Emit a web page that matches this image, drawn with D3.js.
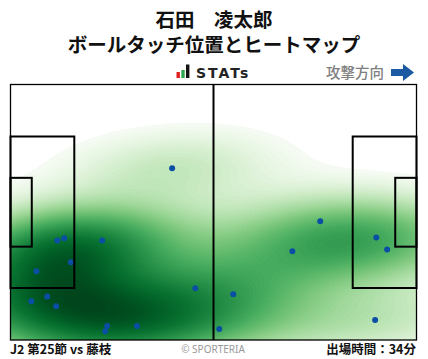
<!DOCTYPE html>
<html>
<head>
<meta charset="utf-8">
<script src="https://cdn.jsdelivr.net/npm/d3@7"></script>
<style>
  body { margin: 0; background: #fff; }
  svg { display: block; font-family: "Noto Sans CJK JP", "Noto Sans", sans-serif; }
</style>
</head>
<body>
<svg id="vis" width="428" height="359"></svg>
<script>
// ball touches, pitch metres (105 x 68), attack to the right
const touchX = [41.8, 12.1, 13.9, 23.7, 15.6, 6.7, 9.5, 5.4, 11.8, 47.8,
                25.0, 24.5, 32.7, 54.0, 80.1, 72.9, 57.6, 94.6, 97.4, 94.3];
const touchY = [22.3, 41.5, 40.9, 41.5, 47.3, 49.7, 56.4, 57.7, 59.0, 54.2,
                64.3, 65.7, 64.3, 65.1, 36.4, 44.4, 55.8, 40.7, 43.9, 62.7];

const titleLines = ["石田　凌太郎", "ボールタッチ位置とヒートマップ"];
const matchLabel = "J2 第25節 vs 藤枝";
const minutesLabel = "出場時間：34分";

const pitchLength = 105;
const pitchWidth = 68;

const svg = d3.select("#vis");

const x = d3.scaleLinear().domain([0, pitchLength]).range([10.5, 416.5]);
const y = d3.scaleLinear().domain([0, pitchWidth]).range([84.5, 340]);

// titles
svg.selectAll("text.title")
  .data(titleLines)
  .join("text")
  .attr("class", "title")
  .attr("x", 214)
  .attr("y", (d, i) => 27 + i * 25)
  .attr("text-anchor", "middle")
  .attr("font-size", 19.5)
  .attr("font-weight", "bold")
  .attr("fill", "#111")
  .text(d => d);

// STATs logo
const logoBars = [{x: 176.5, h: 6, c: "#e02020"}, {x: 181.3, h: 8, c: "#2fa84f"}, {x: 186, h: 13.5, c: "#111"}];
svg.selectAll("rect.logo")
  .data(logoBars)
  .join("rect")
  .attr("class", "logo")
  .attr("x", d => d.x)
  .attr("y", d => 78 - d.h)
  .attr("width", 3.4)
  .attr("height", d => d.h)
  .attr("fill", d => d.c);

svg.append("text")
  .attr("x", 196)
  .attr("y", 78)
  .attr("font-family", "DejaVu Sans")
  .attr("font-size", 14)
  .attr("font-weight", "bold")
  .attr("letter-spacing", 2)
  .attr("fill", "#222")
  .text("STATs");

// attack direction
svg.append("text")
  .attr("x", 384)
  .attr("y", 78)
  .attr("text-anchor", "end")
  .attr("font-size", 14.5)
  .attr("font-weight", 500)
  .attr("fill", "#808080")
  .text("攻撃方向");

svg.append("path")
  .attr("d", "M391,69 L403,69 L403,64 L414,72.5 L403,81 L403,76 L391,76 Z")
  .attr("fill", "#1b5aa3");

// kernel density (gaussian, Scott bandwidth, full covariance)
const n = touchX.length;
const mx = d3.mean(touchX), my = d3.mean(touchY);
let sxx = 0, syy = 0, sxy = 0;
for (let i = 0; i < n; i++) {
  const dx = touchX[i] - mx, dy = touchY[i] - my;
  sxx += dx * dx; syy += dy * dy; sxy += dx * dy;
}
const fac = Math.pow(n, -1 / 6);
const cxx = sxx / (n - 1) * fac * fac;
const cyy = syy / (n - 1) * fac * fac;
const cxy = sxy / (n - 1) * fac * fac;
const det = cxx * cyy - cxy * cxy;
const ixx = cyy / det, iyy = cxx / det, ixy = -cxy / det;

function density(px, py) {
  let s = 0;
  for (let i = 0; i < n; i++) {
    const dx = px - touchX[i], dy = py - touchY[i];
    s += Math.exp(-(ixx * dx * dx + 2 * ixy * dx * dy + iyy * dy * dy) / 2);
  }
  return s / (2 * Math.PI * Math.sqrt(det) * n);
}

const gs = 200, cut = 3;
const gx0 = d3.min(touchX) - cut * Math.sqrt(cxx), gx1 = d3.max(touchX) + cut * Math.sqrt(cxx);
const gy0 = d3.min(touchY) - cut * Math.sqrt(cyy), gy1 = d3.max(touchY) + cut * Math.sqrt(cyy);
const stepX = (gx1 - gx0) / (gs - 1), stepY = (gy1 - gy0) / (gs - 1);
const values = new Float64Array(gs * gs);
for (let j = 0; j < gs; j++) {
  for (let i = 0; i < gs; i++) {
    values[j * gs + i] = density(gx0 + i * stepX, gy0 + j * stepY);
  }
}

// lowest level encloses 1 - thresh of the mass
const thresh = 0.025;
const sorted = Array.from(values).sort((a, b) => b - a);
const cum = d3.cumsum(sorted);
const total = cum[cum.length - 1];
const lowLevel = sorted[Math.min(d3.bisectLeft(cum, (1 - thresh) * total), sorted.length - 1)];
const topLevel = sorted[0];

const nLevels = 90;
const levels = d3.range(nLevels).map(k => lowLevel + (topLevel - lowLevel) * k / nLevels);
const shade = d3.scalePow().exponent(0.62).domain([lowLevel, topLevel]).range([0, 1]).clamp(true);
const step = (topLevel - lowLevel) / nLevels;
const colour = v => d3.interpolateGreens(shade(v));

const contours = d3.contours().size([gs, gs]).thresholds(levels)(values);
const gridToPitch = d3.geoTransform({
  point: function (gx, gy) {
    this.stream.point(x(gx0 + (gx - 0.5) * stepX), y(gy0 + (gy - 0.5) * stepY));
  }
});
const heatPath = d3.geoPath(gridToPitch);

svg.append("clipPath")
  .attr("id", "pitchClip")
  .append("rect")
  .attr("x", x(0))
  .attr("y", y(0))
  .attr("width", x(pitchLength) - x(0))
  .attr("height", y(pitchWidth) - y(0));

svg.append("g")
  .attr("clip-path", "url(#pitchClip)")
  .selectAll("path")
  .data(contours)
  .join("path")
  .attr("d", heatPath)
  .attr("fill", d => colour(d.value + step / 2))
  .attr("stroke", d => colour(d.value + step / 2))
  .attr("stroke-width", 0.3);

// touches
svg.append("g")
  .selectAll("circle")
  .data(touchX)
  .join("circle")
  .attr("cx", d => x(d))
  .attr("cy", (d, i) => y(touchY[i]))
  .attr("r", 3)
  .attr("fill", "#0a4fa3");

// pitch lines
const lines = svg.append("g").attr("fill", "none").attr("stroke", "#000");
lines.append("rect")
  .attr("x", x(0)).attr("y", y(0))
  .attr("width", x(pitchLength) - x(0)).attr("height", y(pitchWidth) - y(0))
  .attr("stroke-width", 1.3);

const boxes = [
  {x0: 0, x1: 16.5, y0: 13.84, y1: 54.16},
  {x0: 0, x1: 5.5, y0: 24.84, y1: 43.16},
  {x0: 105 - 16.5, x1: 105, y0: 13.84, y1: 54.16},
  {x0: 105 - 5.5, x1: 105, y0: 24.84, y1: 43.16}
];
lines.selectAll("rect.box")
  .data(boxes)
  .join("rect")
  .attr("class", "box")
  .attr("x", d => x(d.x0))
  .attr("y", d => y(d.y0))
  .attr("width", d => x(d.x1) - x(d.x0))
  .attr("height", d => y(d.y1) - y(d.y0))
  .attr("stroke-width", 2);

lines.append("line")
  .attr("x1", x(pitchLength / 2)).attr("x2", x(pitchLength / 2))
  .attr("y1", y(0)).attr("y2", y(pitchWidth))
  .attr("stroke-width", 2);

// footer
svg.append("text")
  .attr("x", 10)
  .attr("y", 354)
  .attr("font-size", 12.5)
  .attr("font-weight", "bold")
  .attr("fill", "#111")
  .text(matchLabel);

svg.append("text")
  .attr("x", 213)
  .attr("y", 353)
  .attr("text-anchor", "middle")
  .attr("font-family", "Noto Sans")
  .attr("font-size", 10)
  .attr("fill", "#999")
  .text("© SPORTERIA");

svg.append("text")
  .attr("x", 416)
  .attr("y", 354)
  .attr("text-anchor", "end")
  .attr("font-size", 12.5)
  .attr("font-weight", "bold")
  .attr("fill", "#111")
  .text(minutesLabel);
</script>
</body>
</html>
